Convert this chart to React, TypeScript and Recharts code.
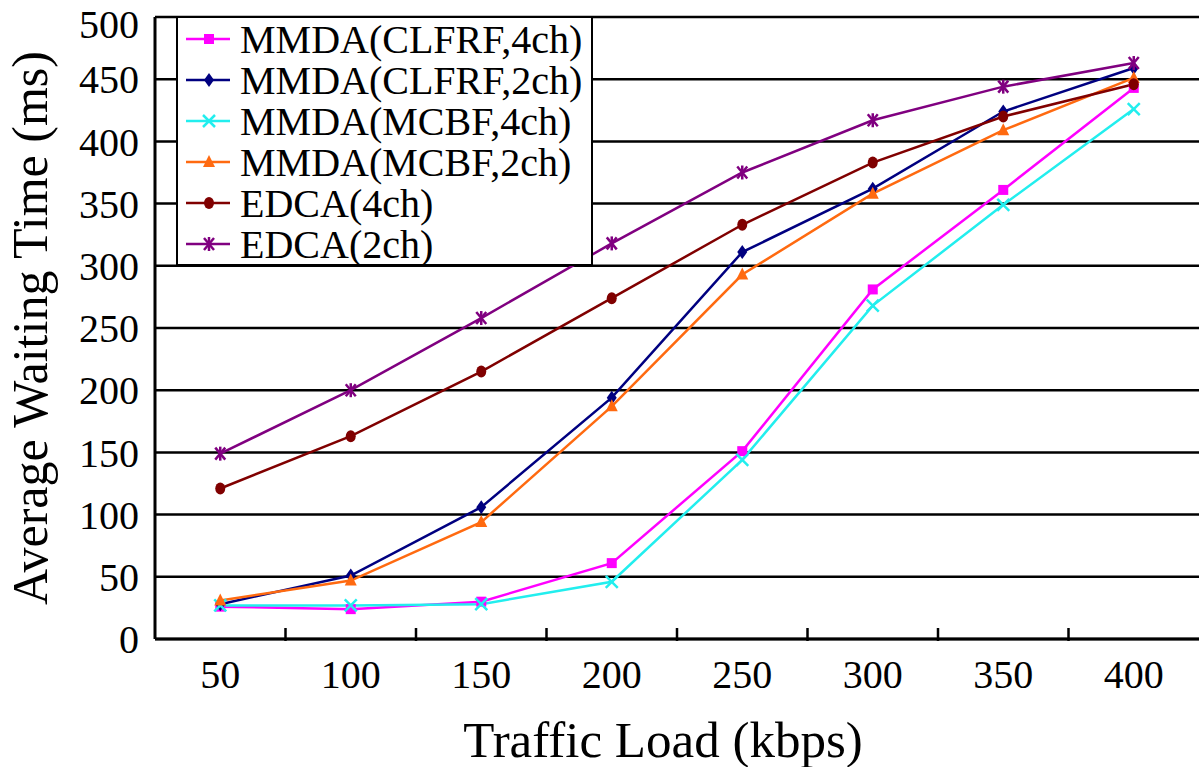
import { LineChart, Line, XAxis, YAxis, CartesianGrid, Legend, Label } from "recharts"

const loads = ["50", "100", "150", "200", "250", "300", "350", "400"]
const clfrf4ch = [26, 24, 30, 61, 151, 281, 361, 443]
const clfrf2ch = [28, 51, 106, 194, 311, 362, 424, 459]
const mcbf4ch = [27, 27, 28, 46, 144, 268, 349, 426]
const mcbf2ch = [31, 47, 94, 187, 293, 358, 409, 451]
const edca4ch = [121, 163, 215, 274, 333, 383, 420, 446]
const edca2ch = [149, 200, 258, 318, 375, 417, 444, 463]
const yTicks = [0, 50, 100, 150, 200, 250, 300, 350, 400, 450, 500]

const data = loads.map((load, i) => ({
  load,
  clfrf4ch: clfrf4ch[i],
  clfrf2ch: clfrf2ch[i],
  mcbf4ch: mcbf4ch[i],
  mcbf2ch: mcbf2ch[i],
  edca4ch: edca4ch[i],
  edca2ch: edca2ch[i],
}))

type Shape = "square" | "diamond" | "cross" | "triangle" | "circle" | "star"

const series: { key: string; name: string; color: string; shape: Shape }[] = [
  { key: "clfrf4ch", name: "MMDA(CLFRF,4ch)", color: "#ff00ff", shape: "square" },
  { key: "clfrf2ch", name: "MMDA(CLFRF,2ch)", color: "#000080", shape: "diamond" },
  { key: "mcbf4ch", name: "MMDA(MCBF,4ch)", color: "#22eeee", shape: "cross" },
  { key: "mcbf2ch", name: "MMDA(MCBF,2ch)", color: "#ff6a10", shape: "triangle" },
  { key: "edca4ch", name: "EDCA(4ch)", color: "#800000", shape: "circle" },
  { key: "edca2ch", name: "EDCA(2ch)", color: "#800080", shape: "star" },
]

const FONT = '"Liberation Serif", "Times New Roman", serif'
const WIDTH = 1200
const HEIGHT = 767
const Y_AXIS_W = 155
const RIGHT = 1
const BAND = (WIDTH - Y_AXIS_W - RIGHT) / loads.length

const Marker = ({ cx, cy, shape, color }: { cx: number; cy: number; shape: Shape; color: string }) => {
  switch (shape) {
    case "square":
      return <rect x={cx - 5} y={cy - 5} width={10} height={10} fill={color} />
    case "diamond":
      return <polygon points={`${cx},${cy - 7} ${cx + 5},${cy} ${cx},${cy + 7} ${cx - 5},${cy}`} fill={color} />
    case "cross":
      return (
        <g stroke={color} strokeWidth={2.5}>
          <line x1={cx - 6} y1={cy - 6} x2={cx + 6} y2={cy + 6} />
          <line x1={cx - 6} y1={cy + 6} x2={cx + 6} y2={cy - 6} />
        </g>
      )
    case "triangle":
      return <polygon points={`${cx},${cy - 7} ${cx + 6},${cy + 5} ${cx - 6},${cy + 5}`} fill={color} />
    case "circle":
      return <ellipse cx={cx} cy={cy} rx={5} ry={6} fill={color} />
    case "star":
      return (
        <g stroke={color} strokeWidth={2.5}>
          <line x1={cx - 5} y1={cy - 6} x2={cx + 5} y2={cy + 6} />
          <line x1={cx - 5} y1={cy + 6} x2={cx + 5} y2={cy - 6} />
          <line x1={cx} y1={cy - 7} x2={cx} y2={cy + 7} />
        </g>
      )
  }
}

const XTick = (props: any) => {
  const { x, y, payload, index } = props
  const bx = x + BAND / 2
  return (
    <g>
      <text x={x} y={y + 47} textAnchor="middle" fontSize={40} fontFamily={FONT} fill="#000">
        {payload.value}
      </text>
      {index < loads.length - 1 && <line x1={bx} y1={y} x2={bx} y2={y - 13} stroke="#000" strokeWidth={2.5} />}
    </g>
  )
}

const LegendBox = () => (
  <div
    style={{
      width: 413,
      height: 245,
      border: "2px solid #000",
      background: "#fff",
      fontFamily: FONT,
      fontSize: 40,
      lineHeight: "41px",
      paddingTop: 1,
      boxSizing: "content-box",
    }}
  >
    {series.map((s) => (
      <div key={s.key} style={{ display: "flex", alignItems: "center", height: 41 }}>
        <svg width={62} height={41} style={{ flexShrink: 0 }}>
          <line x1={8} y1={20} x2={52} y2={20} stroke={s.color} strokeWidth={2.5} />
          <Marker cx={31} cy={20} shape={s.shape} color={s.color} />
        </svg>
        <span style={{ whiteSpace: "nowrap" }}>{s.name}</span>
      </div>
    ))}
  </div>
)

export default function App() {
  return (
    <div style={{ position: "absolute", left: 0, top: 0, background: "#fff" }}>
      <LineChart width={WIDTH} height={HEIGHT} data={data} margin={{ top: 17, right: RIGHT, left: 0, bottom: 0 }}>
        <CartesianGrid vertical={false} stroke="#000" strokeWidth={2.5} />
        <XAxis
          dataKey="load"
          scale="band"
          height={128}
          tickSize={0}
          tickLine={false}
          axisLine={{ stroke: "#000", strokeWidth: 3 }}
          tick={<XTick />}
          interval={0}
        >
          <Label
            content={({ viewBox }: any) => (
              <text
                x={viewBox.x + viewBox.width / 2 - 14}
                y={viewBox.y + 118}
                textAnchor="middle"
                fontSize={51}
                fontFamily={FONT}
                fill="#000"
              >
                Traffic Load (kbps)
              </text>
            )}
          />
        </XAxis>
        <XAxis xAxisId="top" orientation="top" dataKey="load" height={0} tick={false} tickLine={false} axisLine={{ stroke: "#999", strokeWidth: 2.5 }} />
        <YAxis
          domain={[0, 500]}
          ticks={yTicks}
          width={Y_AXIS_W}
          tickLine={false}
          tickMargin={10}
          axisLine={{ stroke: "#000", strokeWidth: 3 }}
          tick={{ fontSize: 40, fontFamily: FONT, fill: "#000" }}
        >
          <Label
            content={({ viewBox }: any) => {
              const cx = 30
              const cy = viewBox.y + viewBox.height / 2
              return (
                <text
                  x={cx}
                  y={cy}
                  transform={`rotate(-90 ${cx} ${cy})`}
                  textAnchor="middle"
                  dominantBaseline="central"
                  fontSize={50}
                  fontFamily={FONT}
                  fill="#000"
                >
                  Average Waiting Time (ms)
                </text>
              )
            }}
          />
        </YAxis>
        <YAxis yAxisId="right" orientation="right" width={0} domain={[0, 500]} tick={false} tickLine={false} axisLine={{ stroke: "#999", strokeWidth: 2.5 }} />
        <Legend
          layout="vertical"
          align="center"
          verticalAlign="middle"
          content={<LegendBox />}
          wrapperStyle={{ left: 176, top: 16, width: 417, height: 249 }}
        />
        {series.map((s) => (
          <Line
            key={s.key}
            dataKey={s.key}
            name={s.name}
            type="linear"
            stroke={s.color}
            strokeWidth={2.5}
            isAnimationActive={false}
            dot={(p: any) => <Marker key={`${s.key}-${p.index}`} cx={p.cx} cy={p.cy} shape={s.shape} color={s.color} />}
            activeDot={false}
          />
        ))}
      </LineChart>
    </div>
  )
}
